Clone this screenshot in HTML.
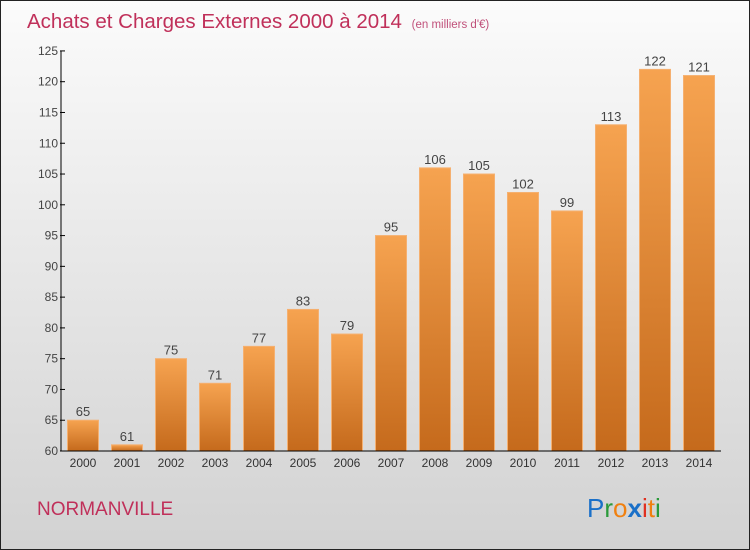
<!DOCTYPE html>
<html><head><meta charset="utf-8"><style>
body{margin:0}
#c{position:relative;width:748px;height:548px;border:1px solid #222;background:linear-gradient(#fbfbfb,#d2d2d2);font-family:"Liberation Sans",sans-serif;overflow:hidden}
</style></head><body>
<div id="c">
<svg width="748" height="548">
<defs>
<linearGradient id="bg" x1="0" y1="0" x2="0" y2="1"><stop offset="0" stop-color="#f6a350"/><stop offset="1" stop-color="#c56a1c"/></linearGradient>
</defs>
<text x="26" y="27" font-size="20.5" fill="#c0305a">Achats et Charges Externes 2000 à 2014 <tspan font-size="11.5" fill="#c0507a" dx="4">(en milliers d'€)</tspan></text>
<g id="plot"></g>
<text x="36" y="514" font-size="19" fill="#c0305a">NORMANVILLE</text>
<g font-size="26" font-family="'Liberation Sans',sans-serif">
<text x="586" y="516"><tspan fill="#1a70c8">P</tspan><tspan fill="#2a9a3a">r</tspan><tspan fill="#f08010">o</tspan><tspan fill="#1a70c8" font-weight="bold">x</tspan><tspan fill="#e03020">i</tspan><tspan fill="#f08010">t</tspan><tspan fill="#2a9a3a">i</tspan></text>
</g>
</svg>
</div>
<script>
const categories=["2000","2001","2002","2003","2004","2005","2006","2007","2008","2009","2010","2011","2012","2013","2014"];
const values=[65,61,75,71,77,83,79,95,106,105,102,99,113,122,121];
const yTicks=[60,65,70,75,80,85,90,95,100,105,110,115,120,125];
const NS="http://www.w3.org/2000/svg";
const g=document.getElementById('plot');
const y=v=>450-(v-60)*6.155;
const x=i=>82+44*i;
function mk(t,a){const e=document.createElementNS(NS,t);for(const k in a)e.setAttribute(k,a[k]);g.appendChild(e);return e;}
yTicks.forEach(t=>{
 const l=mk('line',{x1:59,x2:64,y1:y(t),y2:y(t),stroke:'#000'});
 
 
 const tx=mk('text',{x:57,y:y(t)+4,'text-anchor':'end','font-size':12,fill:'#444'});
 tx.textContent=t;
 
 
});
values.forEach((v,i)=>{
 const r=mk('rect',{x:x(i)-15.5,y:y(v),width:31,height:450-y(v),fill:'url(#bg)',stroke:'#f5b070','stroke-width':1});
 
 
 const lb=mk('text',{x:x(i),y:y(v)-4,'text-anchor':'middle','font-size':13,fill:'#444'});
 lb.textContent=v;
 
 
 const c=mk('text',{x:x(i),y:466,'text-anchor':'middle','font-size':12,fill:'#333'});
 c.textContent=categories[i];
 
 
});
const ya=mk('line',{x1:60,x2:60,y1:y(125),y2:450,stroke:'#000'});


const xa=mk('line',{x1:60,x2:720,y1:450,y2:450,stroke:'#000'});


</script>
</body></html>
